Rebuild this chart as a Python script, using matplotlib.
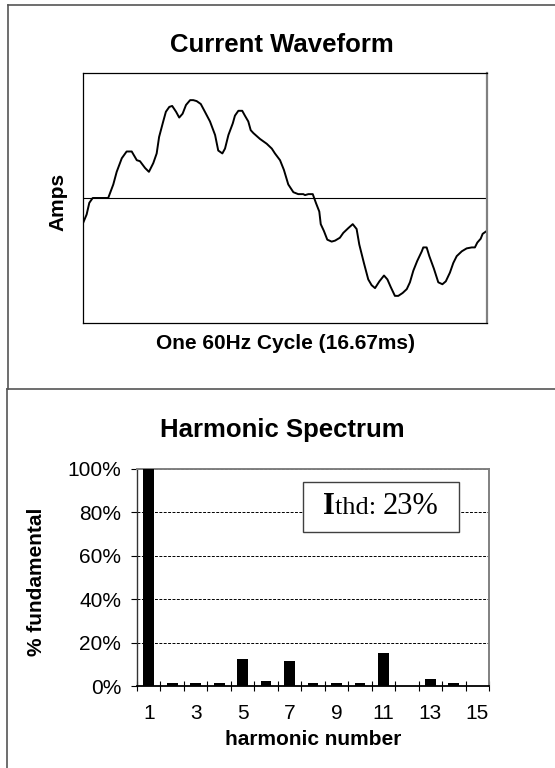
import numpy as np
import matplotlib
matplotlib.use("Agg")
import matplotlib.pyplot as plt
from matplotlib.lines import Line2D
from matplotlib.patches import Rectangle
from matplotlib.offsetbox import TextArea, HPacker, AnchoredOffsetbox

plt.rcParams['font.family'] = ['Liberation Sans', 'DejaVu Sans']

# waveform traced from the scope capture: time (ms) and current (normalised)
wave_t = [0.00, 0.15, 0.26, 0.40, 1.04, 1.25, 1.39, 1.60, 1.80, 2.01,
          2.22, 2.35, 2.56, 2.72, 2.90, 3.04, 3.14, 3.31, 3.42, 3.56,
          3.68, 3.84, 3.97, 4.11, 4.25, 4.42, 4.55, 4.69, 4.86, 5.03,
          5.24, 5.45, 5.58, 5.75, 5.86, 6.00, 6.18, 6.27, 6.41, 6.57,
          6.68, 6.82, 6.92, 7.03, 7.30, 7.58, 7.79, 7.92, 8.13, 8.29,
          8.47, 8.68, 8.88, 9.09, 9.16, 9.30, 9.48, 9.61, 9.75, 9.81,
          9.94, 10.08, 10.26, 10.40, 10.60, 10.74, 10.95, 11.13, 11.29, 11.40,
          11.59, 11.77, 11.91, 12.05, 12.23, 12.42, 12.56, 12.70, 12.87, 13.01,
          13.19, 13.36, 13.49, 13.63, 13.79, 13.98, 14.04, 14.18, 14.29, 14.48,
          14.66, 14.83, 14.97, 15.14, 15.28, 15.42, 15.63, 15.83, 16.04, 16.17,
          16.27, 16.41, 16.49, 16.66]
wave_i = [-0.26, -0.17, -0.05, 0.00, 0.00, 0.14, 0.27, 0.41, 0.48, 0.48,
          0.39, 0.38, 0.31, 0.27, 0.36, 0.46, 0.63, 0.79, 0.89, 0.94,
          0.95, 0.89, 0.83, 0.87, 0.96, 1.01, 1.01, 1.00, 0.97, 0.89,
          0.79, 0.65, 0.49, 0.46, 0.51, 0.65, 0.77, 0.85, 0.90, 0.90,
          0.85, 0.79, 0.70, 0.67, 0.61, 0.56, 0.51, 0.46, 0.39, 0.29,
          0.14, 0.06, 0.04, 0.04, 0.03, 0.04, 0.04, -0.05, -0.14, -0.27,
          -0.34, -0.43, -0.45, -0.44, -0.41, -0.36, -0.31, -0.27, -0.32, -0.48,
          -0.67, -0.84, -0.90, -0.93, -0.86, -0.80, -0.84, -0.92, -1.01, -1.01,
          -0.98, -0.94, -0.87, -0.75, -0.65, -0.55, -0.51, -0.51, -0.60, -0.73,
          -0.87, -0.89, -0.86, -0.77, -0.67, -0.60, -0.55, -0.52, -0.51, -0.51,
          -0.46, -0.42, -0.37, -0.34]

# harmonic spectrum, % of fundamental
harmonics = [1, 2, 3, 4, 5, 6, 7, 8, 9, 10, 11, 12, 13, 14, 15]
harm_pct = [100, 1.5, 1.5, 1.5, 12.5, 2.5, 11.5, 1.5, 1.5, 1.5, 15, 0, 3.3, 1.5, 0]
harm_labels = ['1', '3', '5', '7', '9', '11', '13', '15']
ithd = 23

W, H = 555, 768
fig = plt.figure(figsize=(W / 100, H / 100), dpi=100)

# panel borders (two stacked boxes, as in the original sheet)
border = dict(color='#555555', lw=1.2)
fig.add_artist(Line2D([8 / W, 8 / W], [1 - 5 / H, 1 - 389 / H], **border))
fig.add_artist(Line2D([8 / W, 1.0], [1 - 5 / H, 1 - 5 / H], **border))
fig.add_artist(Line2D([6.5 / W, 1.0], [1 - 389 / H, 1 - 389 / H], **border))
fig.add_artist(Line2D([6.5 / W, 6.5 / W], [1 - 389 / H, 0.0], **border))

# ---- current waveform ----
ax1 = fig.add_axes([83 / W, 1 - 323 / H, 404 / W, 250 / H])
ax1.plot(wave_t, wave_i, color='black', lw=1.4)
ax1.axhline(0, color='black', lw=0.8)
ax1.set_xlim(0, 16.67)
ax1.set_ylim(-1.29, 1.29)
ax1.set_xticks([])
ax1.set_yticks([])
for s in ['left', 'top', 'bottom']:
    ax1.spines[s].set_color('black')
    ax1.spines[s].set_linewidth(0.9)
ax1.spines['right'].set_color('#808080')
ax1.spines['right'].set_linewidth(1.6)
ax1.set_xlabel('One 60Hz Cycle (16.67ms)', fontsize=15, fontweight='bold')
ax1.xaxis.label.set_va('center')
ax1.xaxis.set_label_coords(0.5, -0.08)
ax1.set_ylabel('Amps', fontsize=15, fontweight='bold')
ax1.yaxis.label.set_va('center')
ax1.yaxis.set_label_coords(-0.062, 0.484)
fig.text(282 / W, 1 - 45 / H, 'Current Waveform', fontsize=18.5,
         fontweight='bold', ha='center', va='center')

# ---- harmonic spectrum ----
ax2 = fig.add_axes([137 / W, 1 - 686 / H, 352 / W, 217 / H])
ax2.bar(harmonics, harm_pct, width=0.46, color='black', zorder=3)
ax2.set_xlim(0.5, 15.5)
ax2.set_ylim(0, 100)
ax2.set_yticks([0, 20, 40, 60, 80, 100])
ax2.set_yticklabels(['%d%%' % v for v in [0, 20, 40, 60, 80, 100]])
ax2.tick_params(axis='y', direction='out', length=4.3, width=0.8,
                pad=7, labelsize=15)
ax2.set_xticks([int(l) for l in harm_labels])
ax2.set_xticklabels(harm_labels)
ax2.set_xticks(np.arange(0.5, 15.6, 1.0), minor=True)
ax2.tick_params(axis='x', which='major', length=0, pad=13, labelsize=15)
ax2.tick_params(axis='x', which='minor', direction='inout', length=7.2,
                width=0.8)
ax2.yaxis.grid(True, color='black', lw=0.7, linestyle=(0, (3, 1.5)))
ax2.set_axisbelow(True)
ax2.spines['bottom'].set_color('black')
ax2.spines['bottom'].set_linewidth(1.3)
ax2.spines['left'].set_color('#333333')
ax2.spines['left'].set_linewidth(1.0)
for s in ['top', 'right']:
    ax2.spines[s].set_color('#808080')
    ax2.spines[s].set_linewidth(1.4)
ax2.set_ylabel('% fundamental', fontsize=15, fontweight='bold')
ax2.yaxis.label.set_va('center')
ax2.yaxis.set_label_coords(-0.285, 0.479)
ax2.set_xlabel('harmonic number', fontsize=15, fontweight='bold')
ax2.xaxis.label.set_va('center')
ax2.xaxis.set_label_coords(0.5, -0.245)
fig.text(282 / W, 1 - 430 / H, 'Harmonic Spectrum', fontsize=18.5,
         fontweight='bold', ha='center', va='center')

# Ithd box
ax2.add_patch(Rectangle((0.4716, 0.7097), 0.4432, 0.2303, transform=ax2.transAxes,
                        facecolor='white', edgecolor='#404040', lw=1.0,
                        zorder=4, clip_on=False))
serif = ['Liberation Serif', 'DejaVu Serif']
parts = [TextArea('I', textprops=dict(family=serif, fontsize=22, fontweight='bold')),
         TextArea('thd: ', textprops=dict(family=serif, fontsize=19)),
         TextArea('%d%%' % ithd, textprops=dict(family=serif, fontsize=22))]
packed = HPacker(children=parts, align='baseline', pad=0, sep=0)
anchored = AnchoredOffsetbox(loc='center', child=packed, frameon=False,
                             bbox_to_anchor=(0.693, 0.825),
                             bbox_transform=ax2.transAxes, pad=0, borderpad=0)
anchored.set_zorder(5)
ax2.add_artist(anchored)

fig.savefig('out.png', dpi=100)
